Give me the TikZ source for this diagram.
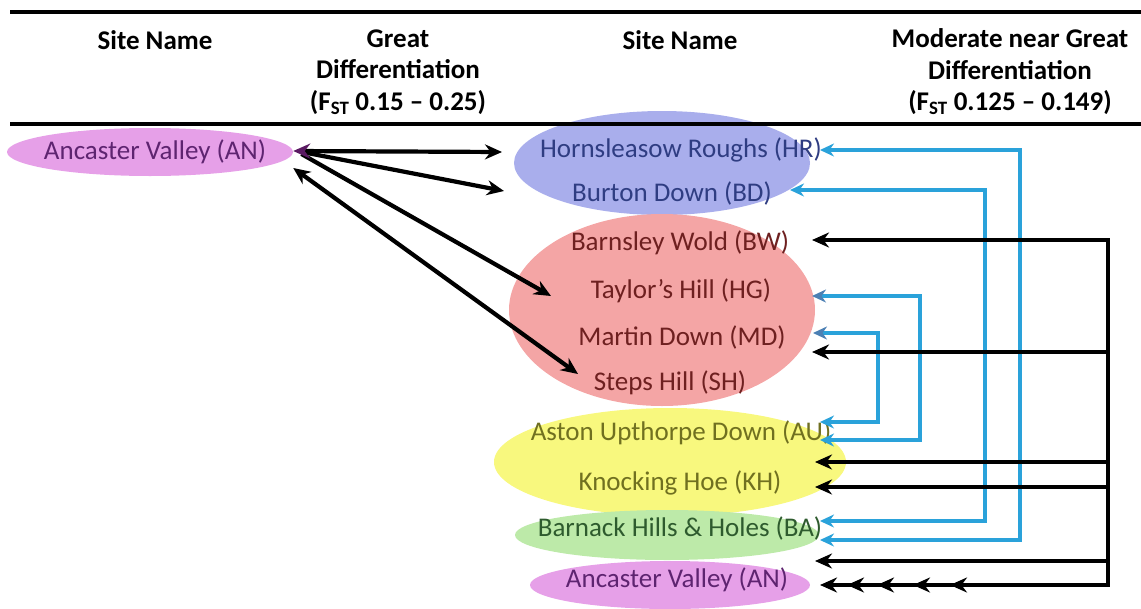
\documentclass[tikz,border=0pt]{standalone}
\usepackage{fontspec}
\setmainfont{Carlito}
\usetikzlibrary{arrows.meta}

\definecolor{anfill}{HTML}{E6A0E8}
\definecolor{hrfill}{HTML}{A9AEEC}
\definecolor{bwfill}{HTML}{F4A5A5}
\definecolor{aufill}{HTML}{F8F87E}
\definecolor{bafill}{HTML}{BDEAA9}
\definecolor{antext}{HTML}{5E2470}
\definecolor{hrtext}{HTML}{2F3D82}
\definecolor{bwtext}{HTML}{6E2020}
\definecolor{autext}{HTML}{707020}
\definecolor{batext}{HTML}{2E5B2E}
\definecolor{anhead}{HTML}{5A1A62}
\definecolor{linkblue}{HTML}{2AA2DA}
\definecolor{tipblue}{HTML}{4C80B4}

\begin{document}
\begin{tikzpicture}[x=1pt,y=-1pt,
  every node/.style={font=\fontsize{27}{31.5}\selectfont, inner sep=1pt},
  head/.style={font=\fontsize{27}{31.5}\selectfont\bfseries, align=center},
  blk/.style={line width=4.2pt, line cap=rect, -{Stealth[length=17pt,width=15pt]}},
  blk2/.style={line width=4.2pt, {Stealth[length=17pt,width=15pt]}-{Stealth[length=17pt,width=15pt]}},
  blu/.style={line width=4pt, color=linkblue, {Stealth[length=14pt,width=13pt]}-{Stealth[length=14pt,width=13pt]}}]
\useasboundingbox (0,0) rectangle (1141,608);

% site groups
\fill[anfill] (150,152) ellipse (143 and 24);
\fill[hrfill] (662,163) ellipse (148 and 52);
\fill[bwfill] (662,310) ellipse (153 and 96);
\fill[aufill] (670,462) ellipse (176 and 54);
\fill[bafill] (667,535) ellipse (152 and 25);
\fill[anfill] (670,585) ellipse (140 and 24);

% table rules
\draw[line width=4pt] (10,12) -- (1141,12);
\draw[line width=4pt] (10,124) -- (1141,124);

% headers
\node[head] (hd1) at (155,40) {Site Name};
\node[head] (hd2) at (398,72) {Great\\Differentiation\\(F\textsubscript{ST} 0.15 -- 0.25)};
\node[head] (hd3) at (680,40) {Site Name};
\node[head] (hd4) at (1010,72) {Moderate near Great\\Differentiation\\(F\textsubscript{ST} 0.125 -- 0.149)};

% sites
\node[text=antext] (an1) at (155,152) {Ancaster Valley (AN)};
\node[text=hrtext] (hr) at (681,150) {Hornsleasow Roughs (HR)};
\node[text=hrtext] (bd) at (672,193) {Burton Down (BD)};
\node[text=bwtext] (bw) at (680,243) {Barnsley Wold (BW)};
\node[text=bwtext] (hg) at (681,291) {Taylor’s Hill (HG)};
\node[text=bwtext] (md) at (682,337) {Martin Down (MD)};
\node[text=bwtext] (sh) at (670,383) {Steps Hill (SH)};
\node[text=autext] (au) at (681,433) {Aston Upthorpe  Down (AU)};
\node[text=autext] (kh) at (680,483) {Knocking Hoe (KH)};
\node[text=batext] (ba) at (680,528) {Barnack Hills \& Holes (BA)};
\node[text=antext] (an2) at (677,580) {Ancaster Valley (AN)};

% great differentiation
\draw[blk] ([xshift=40pt,yshift=-1pt]an1.east) -- ([yshift=2pt]bd -| 504,0);
\draw[blk] ([xshift=36pt,yshift=-3pt]an1.east) -- ([yshift=-5pt]hg -| 551,0);
\draw[blk2] ([xshift=26pt,yshift=-16pt]an1.east) -- ([yshift=9pt]sh -| 578,0);
\draw[line width=4.2pt, {Stealth[length=17pt,width=15pt,color=anhead]}-{Stealth[length=17pt,width=15pt]}]
  ([xshift=26pt,yshift=1pt]an1.east) -- ([yshift=-2pt]hr -| 502,0);

% moderate near great, blue pairs
\draw[blu] (hr -| 820,0) -- ++(200,0) |- ([yshift=-12pt]ba -| 820,0);
\draw[blu] ([yshift=3pt]bd -| 790,0) -- ++(195,0) |- ([yshift=7pt]ba -| 820,0);
\draw[blu, {Stealth[length=14pt,width=13pt,color=tipblue]}-{Stealth[length=14pt,width=13pt]}]
  ([yshift=-5pt]hg -| 812,0) -- ++(108,0) |- ([yshift=-7pt]au -| 820,0);
\draw[blu, {Stealth[length=14pt,width=13pt,color=tipblue]}-{Stealth[length=14pt,width=13pt]}]
  ([yshift=4pt]md -| 813,0) -- ++(65,0) |- ([yshift=11pt]au -| 820,0);

% moderate near great, black bus
\coordinate (bwB) at ([yshift=3pt]bw -| 812,0);
\coordinate (mdB) at ([yshift=-15pt]md -| 812,0);
\coordinate (khA) at ([yshift=21pt]kh -| 815,0);
\coordinate (khB) at ([yshift=-4pt]kh -| 815,0);
\coordinate (baB) at ([yshift=-33pt]ba -| 815,0);
\coordinate (anB) at ([yshift=-5pt]an2 -| 820,0);
\coordinate (bus) at (bwB -| 1108,0);
\draw[blk] (bus |- anB) -- (bus) -- (bwB);
\draw[blk] (bus |- mdB) -- (mdB);
\draw[blk] (bus |- khA) -- (khA);
\draw[blk] (bus |- khB) -- (khB);
\draw[blk] (bus |- baB) -- (baB);
\foreach \s in {0,27,57,93,130}
  \draw[blk] (bus |- anB) -- ([xshift=\s pt]anB);
\end{tikzpicture}
\end{document}
